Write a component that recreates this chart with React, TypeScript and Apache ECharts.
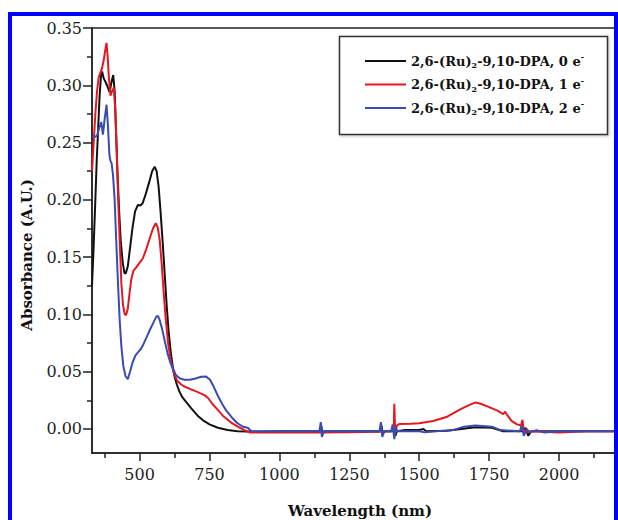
import React, { useEffect, useRef } from "react";
import * as echarts from "echarts";

const FONT = "'DejaVu Serif', 'Liberation Serif', serif";

const seriesNames = [
  "2,6-(Ru)2-9,10-DPA, 0 e-",
  "2,6-(Ru)2-9,10-DPA, 1 e-",
  "2,6-(Ru)2-9,10-DPA, 2 e-",
];
const seriesElectrons = ["0", "1", "2"];
const seriesColors = ["#111111", "#e8161e", "#3a4cb2"];

const xTitle = "Wavelength (nm)";
const yTitle = "Absorbance (A.U.)";

// [wavelength (nm), absorbance]
const black0e: number[][] = [
  [330, 0.125], [336, 0.16], [342, 0.2], [347, 0.235], [352, 0.262], [357, 0.29], [362, 0.308],
  [366, 0.312], [372, 0.306], [380, 0.302], [387, 0.298], [393, 0.294], [399, 0.302],
  [406, 0.309], [411, 0.295], [416, 0.26], [421, 0.225], [427, 0.19], [433, 0.163],
  [440, 0.145], [446, 0.136], [451, 0.136], [458, 0.142], [466, 0.158], [475, 0.176],
  [484, 0.19], [494, 0.1955], [503, 0.195], [511, 0.197], [522, 0.205], [534, 0.215],
  [545, 0.225], [554, 0.229], [561, 0.225], [568, 0.212], [575, 0.19], [583, 0.162],
  [590, 0.135], [597, 0.108], [604, 0.085], [612, 0.066], [619, 0.054], [625, 0.046],
  [633, 0.039], [642, 0.033], [652, 0.028], [665, 0.024], [685, 0.018], [710, 0.011],
  [730, 0.007], [750, 0.004], [780, 0.001], [815, -0.001], [850, -0.002], [887, -0.0023],
  [900, -0.0025], [1000, -0.002], [1100, -0.002], [1146, -0.002], [1150, 0.003], [1154, -0.005],
  [1160, -0.002], [1300, -0.002], [1360, -0.002], [1365, 0.003], [1370, -0.005], [1375, -0.002],
  [1405, -0.002], [1411, 0.004], [1415, -0.006], [1420, -0.002], [1450, -0.001], [1500, -0.001],
  [1515, 0.0], [1525, -0.002], [1600, -0.0015], [1650, 0.0], [1700, 0.0015], [1760, 0.001],
  [1800, -0.002], [1870, -0.002], [1880, 0.001], [1890, -0.006], [1900, -0.002], [2000, -0.002],
  [2100, -0.002], [2200, -0.002],
];

const red1e: number[][] = [
  [330, 0.225], [336, 0.25], [342, 0.275], [348, 0.295], [354, 0.307], [360, 0.311],
  [366, 0.315], [372, 0.322], [377, 0.33], [382, 0.337], [386, 0.325], [390, 0.308],
  [396, 0.291], [402, 0.295], [408, 0.298], [413, 0.28], [418, 0.245], [423, 0.205],
  [429, 0.165], [435, 0.127], [441, 0.108], [447, 0.1], [452, 0.0995], [458, 0.105],
  [464, 0.118], [470, 0.13], [478, 0.138], [488, 0.141], [500, 0.145], [512, 0.149],
  [524, 0.157], [536, 0.166], [548, 0.175], [558, 0.1796], [565, 0.176], [572, 0.165],
  [579, 0.145], [586, 0.12], [594, 0.095], [602, 0.075], [610, 0.062], [618, 0.053],
  [625, 0.047], [635, 0.042], [648, 0.039], [661, 0.037], [680, 0.035], [700, 0.033],
  [718, 0.031], [732, 0.0295], [745, 0.027], [760, 0.022], [780, 0.0166], [800, 0.011],
  [825, 0.006], [851, 0.002], [875, -0.001], [893, -0.003], [950, -0.003], [1050, -0.003],
  [1140, -0.003], [1250, -0.0028], [1360, -0.0025], [1400, -0.002], [1409, 0.0], [1411, 0.022],
  [1414, -0.004], [1420, 0.003], [1430, 0.0044], [1470, 0.0045], [1500, 0.005], [1550, 0.007],
  [1600, 0.0107], [1650, 0.0175], [1680, 0.021], [1700, 0.023], [1720, 0.022], [1750, 0.019],
  [1780, 0.016], [1800, 0.013], [1807, 0.015], [1815, 0.012], [1830, 0.007], [1850, 0.004],
  [1864, 0.003], [1869, 0.008], [1875, -0.003], [1900, -0.002], [2000, -0.003], [2100, -0.002],
  [2200, -0.002],
];

const blue2e: number[][] = [
  [330, 0.255], [340, 0.255], [348, 0.256], [355, 0.262], [363, 0.268], [369, 0.257],
  [375, 0.27], [382, 0.283], [387, 0.265], [392, 0.24], [396, 0.234], [400, 0.232],
  [405, 0.222], [411, 0.2], [417, 0.162], [423, 0.127], [429, 0.095], [435, 0.072],
  [442, 0.055], [450, 0.046], [458, 0.0435], [466, 0.05], [475, 0.058], [485, 0.064],
  [495, 0.067], [505, 0.07], [512, 0.073], [525, 0.08], [538, 0.087], [550, 0.093],
  [560, 0.098], [566, 0.0987], [572, 0.095], [580, 0.088], [590, 0.077], [600, 0.066],
  [610, 0.058], [619, 0.053], [630, 0.047], [645, 0.044], [661, 0.043], [680, 0.043],
  [700, 0.044], [720, 0.0455], [738, 0.0457], [752, 0.043], [765, 0.037], [780, 0.029],
  [795, 0.022], [810, 0.016], [830, 0.01], [850, 0.005], [869, 0.002], [887, 0.001],
  [900, -0.002], [1000, -0.002], [1100, -0.002], [1143, -0.002], [1148, 0.006], [1152, -0.007],
  [1158, -0.002], [1250, -0.002], [1358, -0.002], [1363, 0.006], [1368, -0.007], [1374, -0.002],
  [1400, -0.002], [1405, 0.004], [1411, -0.009], [1416, 0.002], [1421, -0.002], [1500, -0.002],
  [1520, -0.003], [1560, -0.002], [1620, -0.001], [1660, 0.002], [1700, 0.003], [1760, 0.002],
  [1790, -0.001], [1860, -0.002], [1866, 0.003], [1874, -0.006], [1884, 0.0], [1894, -0.003],
  [1920, -0.001], [1945, -0.003], [2000, -0.002], [2100, -0.002], [2200, -0.002],
];

const seriesData = [black0e, red1e, blue2e];

const xMajor = [500, 750, 1000, 1250, 1500, 1750, 2000];
const xMinor = [375, 625, 875, 1125, 1375, 1625, 1875, 2125];
const yMajor = [0, 0.05, 0.1, 0.15, 0.2, 0.25, 0.3, 0.35];
const yMinor = [0.025, 0.075, 0.125, 0.175, 0.225, 0.275, 0.325];

const X_MIN = 330;
const X_MAX = 2200;
const Y_MIN = -0.021;
const Y_MAX = 0.35;

export default function App() {
  const ref = useRef<HTMLDivElement>(null);

  useEffect(() => {
    if (!ref.current) return;
    const chart = echarts.init(ref.current, undefined, { renderer: "svg" });
    const axisColor = "#222222";

    const xBase = { type: "value", min: X_MIN, max: X_MAX, splitLine: { show: false } };
    const yBase = { type: "value", min: Y_MIN, max: Y_MAX, splitLine: { show: false } };

    const option: any = {
      animation: false,
      backgroundColor: "#ffffff",
      grid: {
        left: 92,
        right: 3,
        top: 28,
        bottom: 67,
        show: true,
        borderColor: axisColor,
        borderWidth: 1.5,
        backgroundColor: "transparent",
      },
      xAxis: [
        {
          ...xBase,
          position: "bottom",
          axisLine: { show: true, onZero: false, lineStyle: { color: axisColor, width: 1.5 } },
          axisTick: { show: true, inside: false, length: 8, customValues: xMajor, lineStyle: { color: axisColor, width: 1.5 } },
          axisLabel: {
            customValues: xMajor,
            margin: 13,
            fontFamily: FONT,
            fontSize: 16,
            color: "#222",
            formatter: (v: number) => String(Math.round(v)),
          },
        },
        {
          ...xBase,
          position: "bottom",
          axisLine: { show: false, onZero: false },
          axisTick: { show: true, inside: false, length: 5, customValues: xMinor, lineStyle: { color: axisColor, width: 1.5 } },
          axisLabel: { show: false },
        },
      ],
      yAxis: [
        {
          ...yBase,
          position: "left",
          axisLine: { show: true, onZero: false, lineStyle: { color: axisColor, width: 1.5 } },
          axisTick: { show: true, inside: false, length: 9, customValues: yMajor, lineStyle: { color: axisColor, width: 1.5 } },
          axisLabel: {
            customValues: yMajor,
            margin: 10,
            fontFamily: FONT,
            fontSize: 16,
            color: "#222",
            formatter: (v: number) => v.toFixed(2),
          },
        },
        {
          ...yBase,
          position: "left",
          axisLine: { show: false, onZero: false },
          axisTick: { show: true, inside: false, length: 5, customValues: yMinor, lineStyle: { color: axisColor, width: 1.5 } },
          axisLabel: { show: false },
        },
      ],
      legend: {
        orient: "vertical",
        left: 339,
        top: 36,
        padding: [17, 25, 18, 26],
        itemGap: 7.5,
        itemWidth: 41,
        itemHeight: 2,
        icon: "rect",
        borderWidth: 0,
        data: seriesNames,
        formatter: (name: string) => {
          const i = seriesNames.indexOf(name);
          return `{m|2,6-(Ru)}{sub|2}{m|-9,10-DPA, ${seriesElectrons[i]} e}{sup|-}`;
        },
        textStyle: {
          fontFamily: FONT,
          fontWeight: "bold",
          fontSize: 13,
          color: "#111",
          rich: {
            m: { fontFamily: FONT, fontWeight: "bold", fontSize: 13, lineHeight: 16, color: "#111" },
            sub: { fontFamily: FONT, fontWeight: "bold", fontSize: 8, lineHeight: 16, verticalAlign: "bottom", padding: [7, 0, 0, 0], color: "#111" },
            sup: { fontFamily: FONT, fontWeight: "bold", fontSize: 8, lineHeight: 16, verticalAlign: "top", padding: [0, 0, 6, 0], color: "#111" },
          },
        },
      },
      graphic: [
        {
          type: "rect",
          silent: true,
          z: -1,
          shape: { x: 339.5, y: 36.5, width: 268, height: 98 },
          style: { fill: "#ffffff", stroke: "#333333", lineWidth: 1.5, shadowBlur: 3, shadowColor: "rgba(0,0,0,0.25)", shadowOffsetX: 1, shadowOffsetY: 1 },
        },
        {
          type: "text",
          silent: true,
          x: 360,
          y: 511,
          style: {
            text: xTitle,
            fontFamily: FONT,
            fontSize: 15,
            fontWeight: "bold",
            fill: "#111",
            align: "center",
            verticalAlign: "middle",
          },
        },
        {
          type: "text",
          silent: true,
          x: 27,
          y: 255,
          rotation: Math.PI / 2,
          style: {
            text: yTitle,
            fontFamily: FONT,
            fontSize: 15,
            fontWeight: "bold",
            fill: "#111",
            align: "center",
            verticalAlign: "middle",
          },
        },
        {
          type: "rect",
          silent: true,
          z: 100,
          shape: { x: 10, y: 14, width: 606, height: 560 },
          style: { fill: "none", stroke: "#0000ff", lineWidth: 4 },
        },
      ],
      series: seriesData.map((d, i) => ({
        name: seriesNames[i],
        type: "line",
        xAxisIndex: 0,
        yAxisIndex: 0,
        data: d,
        showSymbol: false,
        symbol: "none",
        smooth: false,
        color: seriesColors[i],
        lineStyle: { color: seriesColors[i], width: 2 },
        clip: true,
      })),
    };

    chart.setOption(option);
    return () => chart.dispose();
  }, []);

  return (
    <div
      ref={ref}
      style={{ position: "fixed", left: 0, top: 0, width: 618, height: 520, background: "#fff" }}
    />
  );
}
